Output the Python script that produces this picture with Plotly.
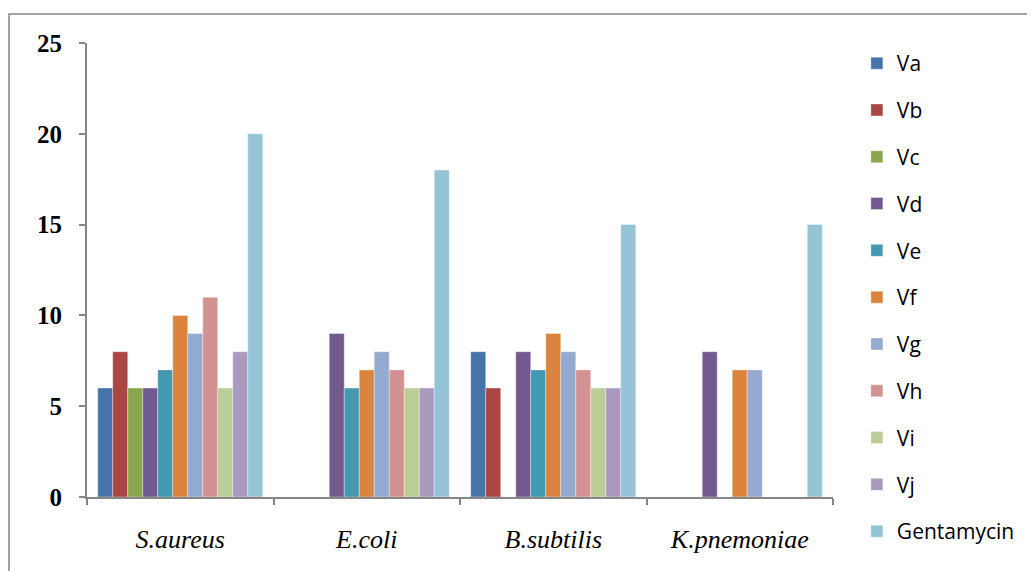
import plotly.graph_objects as go

categories = ["S.aureus", "E.coli", "B.subtilis", "K.pnemoniae"]
series_names = ["Va", "Vb", "Vc", "Vd", "Ve", "Vf", "Vg", "Vh", "Vi", "Vj", "Gentamycin"]
Va = [6, 0, 8, 0]
Vb = [8, 0, 6, 0]
Vc = [6, 0, 0, 0]
Vd = [6, 9, 8, 8]
Ve = [7, 6, 7, 0]
Vf = [10, 7, 9, 7]
Vg = [9, 8, 8, 7]
Vh = [11, 7, 7, 0]
Vi = [6, 6, 6, 0]
Vj = [8, 6, 6, 0]
Gentamycin = [20, 18, 15, 15]
y_ticks = [0, 5, 10, 15, 20, 25]

series_values = [Va, Vb, Vc, Vd, Ve, Vf, Vg, Vh, Vi, Vj, Gentamycin]
colors = ["#4673A8", "#AA4644", "#8AA64E", "#72598F", "#4299B0", "#DC843E",
          "#95AAD0", "#D29291", "#BACD96", "#AA9ABD", "#94C4D6"]

fig = go.Figure()
for name, vals, col in zip(series_names, series_values, colors):
    fig.add_trace(go.Bar(
        name=name, x=categories, y=[v if v else None for v in vals],
        marker=dict(color=col, line=dict(width=0.6, color="rgba(255,255,255,0.6)")),
        legendgroup=name,
    ))

# page body has an 8px default margin, so the figure is offset by 8px
W, H = 1027, 563
L, T, PW, PH = 79, 35, 746, 454
axis_col = "#868686"
fig.update_layout(
    width=W, height=H,
    margin=dict(l=L, r=W - L - PW, t=T, b=H - T - PH, autoexpand=False),
    paper_bgcolor="white", plot_bgcolor="white",
    barmode="group", bargap=0.115, bargroupgap=0,
    showlegend=True,
    legend=dict(x=1.032, y=1, xanchor="left", yanchor="top",
                maxheight=555,
                font=dict(family="Open Sans", size=21, color="black"),
                tracegroupgap=16.5, itemwidth=30, bgcolor="rgba(0,0,0,0)"),
    xaxis=dict(type="category", showline=True, linecolor=axis_col, linewidth=2,
               ticks="outside", tickson="boundaries", ticklen=6, tickcolor=axis_col,
               tickwidth=2, showgrid=False,
               tickfont=dict(family="Liberation Serif", size=26, color="black", style="italic"),
               ticklabelstandoff=18),
    yaxis=dict(range=[0, 25], tickvals=y_ticks, showline=True, linecolor=axis_col,
               linewidth=2, ticks="outside", ticklen=6, tickcolor=axis_col, tickwidth=2,
               showgrid=False, zeroline=False,
               tickfont=dict(family="Liberation Serif", size=25, color="black", weight="bold"),
               ticklabelstandoff=12),
)

fig.add_shape(type="rect", xref="paper", yref="paper",
              x0=(9 - 87) / PW, x1=(1033 - 87) / PW,
              y0=(497 - 580) / PH, y1=(497 - 14) / PH,
              line=dict(color=axis_col, width=1.5), fillcolor="rgba(0,0,0,0)", layer="below")

fig.write_html("out.html")
